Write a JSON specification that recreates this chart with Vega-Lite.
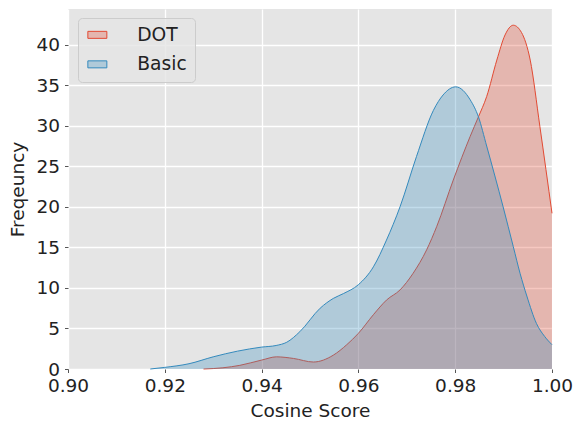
{
  "$schema": "https://vega.github.io/schema/vega-lite/v6.json",
  "autosize": "none",
  "width": 484,
  "height": 360,
  "padding": {"left": 68, "top": 9, "right": 23, "bottom": 52},
  "datasets": {
    "dot": [
      {"series": "DOT", "x": 0.928, "y": 0},
      {"series": "DOT", "x": 0.932, "y": 0.15},
      {"series": "DOT", "x": 0.9355, "y": 0.45},
      {"series": "DOT", "x": 0.94, "y": 1.1},
      {"series": "DOT", "x": 0.9431, "y": 1.5},
      {"series": "DOT", "x": 0.9466, "y": 1.3},
      {"series": "DOT", "x": 0.9507, "y": 0.86},
      {"series": "DOT", "x": 0.9548, "y": 1.7},
      {"series": "DOT", "x": 0.9576, "y": 3.0},
      {"series": "DOT", "x": 0.96, "y": 4.4},
      {"series": "DOT", "x": 0.9631, "y": 6.7},
      {"series": "DOT", "x": 0.9658, "y": 8.5},
      {"series": "DOT", "x": 0.9686, "y": 9.75},
      {"series": "DOT", "x": 0.9713, "y": 11.8},
      {"series": "DOT", "x": 0.9741, "y": 14.7},
      {"series": "DOT", "x": 0.9762, "y": 17.6},
      {"series": "DOT", "x": 0.9796, "y": 23.3},
      {"series": "DOT", "x": 0.9831, "y": 28.7},
      {"series": "DOT", "x": 0.9848, "y": 31.1},
      {"series": "DOT", "x": 0.9865, "y": 33.6},
      {"series": "DOT", "x": 0.9886, "y": 38.1},
      {"series": "DOT", "x": 0.9903, "y": 41.2},
      {"series": "DOT", "x": 0.992, "y": 42.4},
      {"series": "DOT", "x": 0.9937, "y": 41.5},
      {"series": "DOT", "x": 0.9955, "y": 38.1},
      {"series": "DOT", "x": 0.9975, "y": 29.9},
      {"series": "DOT", "x": 1.0, "y": 19.2}
    ],
    "basic": [
      {"series": "Basic", "x": 0.917, "y": 0},
      {"series": "Basic", "x": 0.92, "y": 0.2},
      {"series": "Basic", "x": 0.925, "y": 0.65},
      {"series": "Basic", "x": 0.93, "y": 1.5},
      {"series": "Basic", "x": 0.935, "y": 2.2},
      {"series": "Basic", "x": 0.94, "y": 2.7},
      {"series": "Basic", "x": 0.943, "y": 2.9},
      {"series": "Basic", "x": 0.9452, "y": 3.3},
      {"series": "Basic", "x": 0.9479, "y": 4.6},
      {"series": "Basic", "x": 0.9521, "y": 7.5},
      {"series": "Basic", "x": 0.9548, "y": 8.7},
      {"series": "Basic", "x": 0.9569, "y": 9.3},
      {"series": "Basic", "x": 0.96, "y": 10.4},
      {"series": "Basic", "x": 0.9631, "y": 12.6},
      {"series": "Basic", "x": 0.9658, "y": 15.9},
      {"series": "Basic", "x": 0.9686, "y": 20.0},
      {"series": "Basic", "x": 0.972, "y": 26.2},
      {"series": "Basic", "x": 0.9755, "y": 31.9},
      {"series": "Basic", "x": 0.9775, "y": 33.8},
      {"series": "Basic", "x": 0.9801, "y": 34.8},
      {"series": "Basic", "x": 0.9831, "y": 33.2},
      {"series": "Basic", "x": 0.9848, "y": 31.1},
      {"series": "Basic", "x": 0.9865, "y": 27.5},
      {"series": "Basic", "x": 0.9899, "y": 20.0},
      {"series": "Basic", "x": 0.992, "y": 15.1},
      {"series": "Basic", "x": 0.9934, "y": 11.8},
      {"series": "Basic", "x": 0.9948, "y": 9.0},
      {"series": "Basic", "x": 0.9968, "y": 5.6},
      {"series": "Basic", "x": 0.9985, "y": 4.0},
      {"series": "Basic", "x": 1.0, "y": 3.0}
    ]
  },
  "encoding": {
    "x": {
      "field": "x", "type": "quantitative",
      "scale": {"domain": [0.9, 1.0], "nice": false, "zero": false},
      "axis": {"values": [0.9, 0.92, 0.94, 0.96, 0.98, 1.0], "format": ".2f", "title": "Cosine Score", "titlePadding": 6, "labelPadding": 4}
    },
    "y": {
      "field": "y", "type": "quantitative",
      "scale": {"domain": [0, 44.4], "nice": false},
      "axis": {"values": [0, 5, 10, 15, 20, 25, 30, 35, 40], "title": "Freqeuncy", "titlePadding": 8, "labelPadding": 5}
    },
    "color": {
      "field": "series", "type": "nominal",
      "scale": {"domain": ["DOT", "Basic"], "range": ["#E24A33", "#348ABD"]},
      "legend": {
        "title": null,
        "orient": "none",
        "legendX": 10,
        "legendY": 9,
        "symbolType": "M-1,-0.5L1.714,-0.5L1.714,0.5L-1,0.5Z",
        "symbolSize": 196,
        "symbolStrokeWidth": 1,
        "symbolOpacity": 1,
        "labelOffset": 33,
        "labelFontSize": 18.7,
        "labelFont": "DejaVu Sans",
        "labelColor": "#222222",
        "rowPadding": 9.5,
        "padding": 7.5,
        "fillColor": "rgba(229,229,229,0.8)",
        "strokeColor": "#CCCCCC",
        "cornerRadius": 4,
        "encode": {
          "symbols": {
            "update": {
              "fillOpacity": {"value": 0.3},
              "strokeOpacity": {"value": 1},
              "stroke": {"scale": "color", "field": "value"},
              "strokeWidth": {"value": 1}
            }
          }
        }
      }
    }
  },
  "layer": [
    {
      "data": {"name": "dot"},
      "mark": {"type": "area", "interpolate": "monotone", "fillOpacity": 0.3, "line": {"strokeWidth": 1}}
    },
    {
      "data": {"name": "basic"},
      "mark": {"type": "area", "interpolate": "monotone", "fillOpacity": 0.3, "line": {"strokeWidth": 1}}
    }
  ],
  "config": {
    "view": {"fill": "#E5E5E5", "stroke": null},
    "axis": {
      "domain": false,
      "grid": true,
      "gridColor": "#FFFFFF",
      "gridWidth": 1.3,
      "tickColor": "#555555",
      "tickSize": 3.5,
      "tickWidth": 1,
      "labelColor": "#222222",
      "labelFont": "DejaVu Sans",
      "labelFontSize": 18.5,
      "labelFlush": false,
      "labelOverlap": false,
      "titleColor": "#222222",
      "titleFont": "DejaVu Sans",
      "titleFontSize": 18.5,
      "titleFontWeight": "normal"
    }
  }
}
